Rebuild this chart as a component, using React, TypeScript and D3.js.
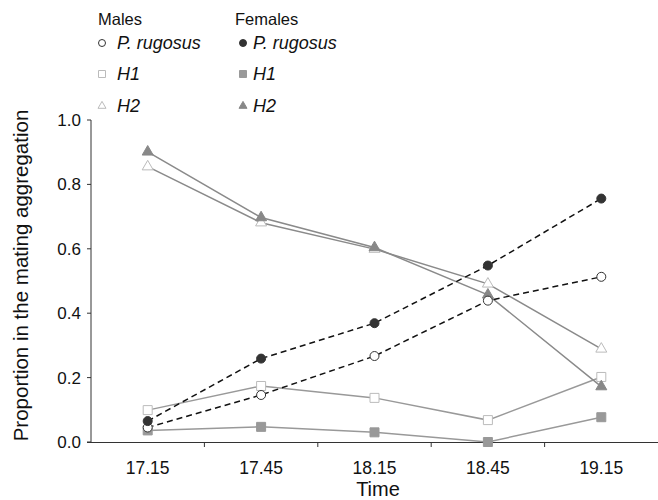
import React, { useEffect, useRef } from 'react'
import * as d3 from 'd3'

const times = ['17.15', '17.45', '18.15', '18.45', '19.15']
const malePR = [0.045, 0.146, 0.267, 0.439, 0.513]
const femalePR = [0.065, 0.259, 0.369, 0.548, 0.756]
const maleH1 = [0.099, 0.174, 0.137, 0.068, 0.202]
const femaleH1 = [0.036, 0.047, 0.030, 0.0, 0.077]
const maleH2 = [0.855, 0.681, 0.599, 0.491, 0.289]
const femaleH2 = [0.901, 0.697, 0.604, 0.457, 0.172]
const yTicks = [0, 0.2, 0.4, 0.6, 0.8, 1.0]

const series = [
  { name: 'H1', sex: 'm', values: maleH1, shape: 'square', line: '#999', dash: null },
  { name: 'H1', sex: 'f', values: femaleH1, shape: 'square', line: '#999', dash: null },
  { name: 'H2', sex: 'm', values: maleH2, shape: 'triangle', line: '#8a8a8a', dash: null },
  { name: 'H2', sex: 'f', values: femaleH2, shape: 'triangle', line: '#8a8a8a', dash: null },
  { name: 'P. rugosus', sex: 'm', values: malePR, shape: 'circle', line: '#111', dash: '6,4' },
  { name: 'P. rugosus', sex: 'f', values: femalePR, shape: 'circle', line: '#111', dash: '6,4' },
]

const FONT = 'Liberation Sans, Arial, sans-serif'

function markerStyle(shape: string, sex: string) {
  if (shape === 'circle') return sex === 'f' ? { fill: '#333', stroke: '#333' } : { fill: '#fff', stroke: '#333' }
  if (shape === 'square') return sex === 'f' ? { fill: '#999', stroke: '#999' } : { fill: '#fff', stroke: '#bbb' }
  return sex === 'f' ? { fill: '#888', stroke: '#888' } : { fill: '#fff', stroke: '#bbb' }
}

function drawMarker(g: any, shape: string, sex: string, cx: number, cy: number, s: number) {
  const st = markerStyle(shape, sex)
  const symType = shape === 'circle' ? d3.symbolCircle : shape === 'square' ? d3.symbolSquare : d3.symbolTriangle
  const area = shape === 'circle' ? Math.PI * s * s / 4 : shape === 'square' ? s * s : s * s * 0.433
  g.append('path')
    .attr('d', d3.symbol().type(symType).size(area)())
    .attr('transform', `translate(${cx},${cy})`)
    .attr('fill', st.fill)
    .attr('stroke', st.stroke)
    .attr('stroke-width', 1)
}

export default function App() {
  const ref = useRef<SVGSVGElement>(null)

  useEffect(() => {
    const svg = d3.select(ref.current)
    svg.selectAll('*').remove()

    const left = 91, right = 658, top = 120, bottom = 442

    const x = d3.scaleBand().domain(times).range([left, right]).padding(0)
    const y = d3.scaleLinear().domain([0, 1]).range([bottom, top])

    // y axis
    svg.append('line').attr('x1', left).attr('x2', left).attr('y1', top).attr('y2', bottom)
      .attr('stroke', '#333').attr('stroke-width', 1)
    yTicks.forEach(t => {
      svg.append('line').attr('x1', left - 4).attr('x2', left).attr('y1', y(t)).attr('y2', y(t))
        .attr('stroke', '#333')
      svg.append('text').attr('x', left - 10).attr('y', y(t)).attr('dy', '0.35em')
        .attr('text-anchor', 'end').style('font', `17px ${FONT}`).attr('fill', '#111')
        .text(t.toFixed(1))
    })

    // x axis
    svg.append('line').attr('x1', left - 4).attr('x2', right).attr('y1', bottom + 0.5).attr('y2', bottom + 0.5)
      .attr('stroke', '#333').attr('stroke-width', 1)
    times.forEach((t, i) => {
      if (i > 0) {
        const tx = x(t) as number
        svg.append('line').attr('x1', tx).attr('x2', tx).attr('y1', bottom).attr('y2', bottom + 5)
          .attr('stroke', '#333')
      }
      svg.append('text').attr('x', (x(t) as number) + x.bandwidth() / 2).attr('y', 474)
        .attr('text-anchor', 'middle').style('font', `17.5px ${FONT}`).attr('fill', '#111')
        .text(t)
    })

    svg.append('text').attr('x', 378).attr('y', 496).attr('text-anchor', 'middle')
      .style('font', `20px ${FONT}`).attr('fill', '#111').text('Time')
    svg.append('text').attr('transform', `translate(28,${(103 + 448) / 2}) rotate(-90)`)
      .attr('text-anchor', 'middle').style('font', `20.5px ${FONT}`).attr('fill', '#111')
      .text('Proportion in the mating aggregation')

    const cx = (i: number) => (x(times[i]) as number) + x.bandwidth() / 2

    // lines
    series.forEach(s => {
      const line = d3.line<number>().x((d, i) => cx(i)).y(d => y(d))
      svg.append('path').attr('d', line(s.values))
        .attr('fill', 'none').attr('stroke', s.line).attr('stroke-width', 1.5)
        .attr('stroke-dasharray', s.dash)
    })
    // markers
    series.forEach(s => {
      const size = s.shape === 'circle' ? 9 : s.shape === 'square' ? 9 : 11
      s.values.forEach((v, i) => drawMarker(svg, s.shape, s.sex, cx(i), y(v), size))
    })

    // legend
    const lg = svg.append('g')
    lg.append('text').attr('x', 98).attr('y', 25).style('font', `16.5px ${FONT}`).attr('fill', '#111').text('Males')
    lg.append('text').attr('x', 235).attr('y', 25).style('font', `16.5px ${FONT}`).attr('fill', '#111').text('Females')
    const rows = [
      { name: 'P. rugosus', shape: 'circle', yy: 43 },
      { name: 'H1', shape: 'square', yy: 74 },
      { name: 'H2', shape: 'triangle', yy: 106 },
    ]
    rows.forEach(r => {
      ;[{ sex: 'm', mx: 102, tx: 117 }, { sex: 'f', mx: 243, tx: 253 }].forEach(c => {
        drawMarker(lg, r.shape, c.sex, c.mx, r.yy, r.shape === 'circle' ? 7 : r.shape === 'square' ? 7 : 8)
        lg.append('text').attr('x', c.tx).attr('y', r.yy + 6).style('font', `italic 18px ${FONT}`)
          .attr('fill', '#111').text(r.name)
      })
    })
  }, [])

  return (
    <svg ref={ref} width={658} height={500}
      style={{ position: 'absolute', left: 0, top: 0, display: 'block', background: '#fff' }} />
  )
}
